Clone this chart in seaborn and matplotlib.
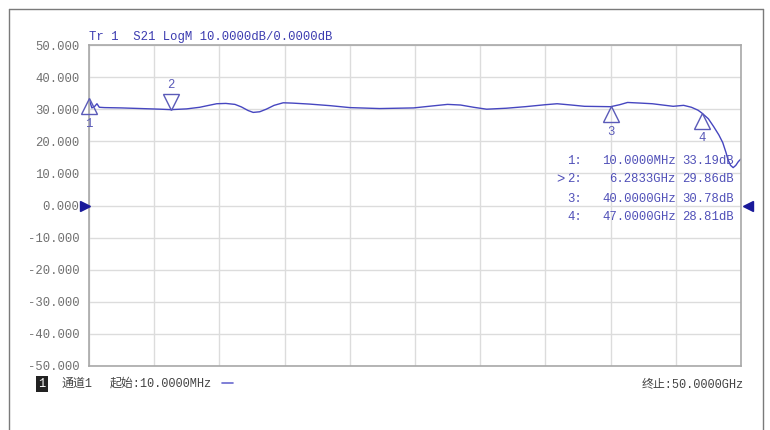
"""
VNA screenshot style trace: S21 LogM, 10 MHz - 50 GHz
"""

import matplotlib.pyplot as plt
import matplotlib.transforms as mtransforms
from matplotlib.lines import Line2D
import numpy as np
import pandas as pd
import seaborn as sns

# ---------------------------------------------------------------------------
# Data
# ---------------------------------------------------------------------------
freq_ghz = [0.01, 0.23, 0.45, 0.62, 0.8, 1.2, 2.5, 4.0, 5.5, 6.2833, 7.5,
            8.5, 9.2, 9.8, 10.5, 11.2, 11.7, 12.2, 12.6, 13.1, 13.6,
            14.2, 14.9, 15.6, 16.9, 18.5, 20.0, 22.3, 24.9, 26.3, 27.5,
            28.5, 29.5, 30.5, 32.0, 33.5, 35.0, 35.9, 37.0, 38.0, 40.0,
            40.7, 41.3, 42.3, 43.2, 44.2, 44.8, 45.6, 46.2, 46.7, 47.0,
            47.5, 47.9, 48.3, 48.6, 48.85, 49.0, 49.2, 49.4, 49.6, 49.8, 50.0]
s21_db = [33.19, 30.4, 30.9, 31.7, 30.6, 30.5, 30.4, 30.2, 30.0, 29.86, 30.1,
          30.6, 31.2, 31.7, 31.8, 31.5, 30.7, 29.6, 29.0, 29.2, 30.0,
          31.2, 32.0, 31.9, 31.6, 31.1, 30.5, 30.2, 30.4, 31.0, 31.5,
          31.3, 30.6, 30.0, 30.3, 30.8, 31.4, 31.7, 31.3, 30.9, 30.78,
          31.4, 32.1, 31.9, 31.7, 31.2, 30.9, 31.2, 30.6, 29.7, 28.81,
          27.0, 24.6, 22.0, 19.6, 16.5, 14.3, 12.5, 11.8, 12.5, 13.7, 14.5]

marker_ids = ['1', '2', '3', '4']
marker_freq = [0.01, 6.2833, 40.0, 47.0]
marker_db = [33.19, 29.86, 30.78, 28.81]
marker_freq_txt = ['10.0000MHz', '6.2833GHz', '40.0000GHz', '47.0000GHz']
marker_db_txt = ['33.19dB', '29.86dB', '30.78dB', '28.81dB']
marker_up = [True, False, True, True]

y_ticks = [50, 40, 30, 20, 10, 0, -10, -20, -30, -40, -50]

TRACE = '#4646c0'
MARK = '#5a5ab8'
TXT_BLUE = '#5050b8'
GREY_TXT = '#707070'

W, H = 770, 430


def px(x, y):
    # pixel position (from top-left) -> figure fraction
    return x / W, 1 - y / H


sns.set_theme(style='white')
plt.rcParams['font.family'] = ['Liberation Mono', 'Noto Sans CJK SC', 'DejaVu Sans']

fig = plt.figure(figsize=(W / 100, H / 100), dpi=100)
ax = fig.add_axes([89 / W, 1 - 366 / H, 652 / W, 321 / H])

df = pd.DataFrame({'freq': freq_ghz, 's21': s21_db})
sns.lineplot(data=df, x='freq', y='s21', ax=ax, color=TRACE, linewidth=1.0)

ax.set_xlim(0.01, 50)
ax.set_ylim(-50, 50)
ax.set_xticks(np.linspace(0.01, 50, 11))
ax.set_xticklabels([])
ax.set_yticks(y_ticks)
ax.set_yticklabels([f'{v:.3f}' for v in y_ticks], color=GREY_TXT, fontsize=8.8)
ax.tick_params(length=0, pad=7)
ax.set_xlabel('')
ax.set_ylabel('')
ax.grid(True, color='#dcdcdc', linewidth=1.0)
for sp in ax.spines.values():
    sp.set_color('#a8a8a8')
    sp.set_linewidth(1.2)

# marker triangles (apex sits on the trace)
down_off = mtransforms.offset_copy(ax.transData, fig=fig, x=0, y=-7.5, units='dots')
up_off = mtransforms.offset_copy(ax.transData, fig=fig, x=0, y=7.5, units='dots')
for mid, f, d, up in zip(marker_ids, marker_freq, marker_db, marker_up):
    if up:
        ax.plot(f, d, marker='^', markersize=11, markerfacecolor='none',
                markeredgecolor=MARK, markeredgewidth=1.0, transform=down_off,
                clip_on=False, zorder=5)
        ax.annotate(mid, (f, d), xytext=(0, -19), textcoords='offset pixels',
                    ha='center', va='top', color=MARK, fontsize=8.8)
    else:
        ax.plot(f, d, marker='v', markersize=11, markerfacecolor='none',
                markeredgecolor=MARK, markeredgewidth=1.0, transform=up_off,
                clip_on=False, zorder=5)
        ax.annotate(mid, (f, d), xytext=(0, 19), textcoords='offset pixels',
                    ha='center', va='bottom', color=MARK, fontsize=8.8)

# reference level arrows at 0 dB
ref_tr = mtransforms.blended_transform_factory(ax.transAxes, ax.transData)
ax.plot(-0.006, 0, marker='>', markersize=7, color='#1a1a9a', transform=ref_tr,
        clip_on=False, zorder=6)
ax.plot(1.010, 0, marker='<', markersize=7, color='#1a1a9a', transform=ref_tr,
        clip_on=False, zorder=6)

# header
fig.text(*px(89, 37), 'Tr 1  S21 LogM 10.0000dB/0.0000dB', color='#3c3cb0',
         fontsize=8.8, ha='left', va='center')

# marker table
row_y = [160.5, 179.5, 198.5, 217.5]
for i, (mid, ft, dt) in enumerate(zip(marker_ids, marker_freq_txt, marker_db_txt)):
    fig.text(*px(582, row_y[i]), mid + ':', color=TXT_BLUE, fontsize=8.8, ha='right', va='center')
    fig.text(*px(676, row_y[i]), ft, color=TXT_BLUE, fontsize=8.8, ha='right', va='center')
    fig.text(*px(734, row_y[i]), dt, color=TXT_BLUE, fontsize=8.8, ha='right', va='center')
# active marker pointer
fig.text(*px(556, row_y[1]), '>', color=TXT_BLUE, fontsize=10, ha='left', va='center')

# status bar
fig.text(*px(42, 384), '1', color='white', fontsize=8.6, ha='center', va='center',
         bbox=dict(boxstyle='square,pad=0.2', facecolor='#222222', edgecolor='none'))
fig.text(*px(61, 384), '通道1', color='#444444', fontsize=8.6, ha='left', va='center')
fig.text(*px(110, 384), '起始:10.0000MHz', color='#444444', fontsize=8.6, ha='left', va='center')
fig.add_artist(Line2D([222 / W, 233 / W], [1 - 383 / H] * 2, color='#6a6ad0', linewidth=1.2))
fig.text(*px(744, 384), '终止:50.0000GHz', color='#444444', fontsize=8.6, ha='right', va='center')

# outer window frame
for xs, ys in [([9, 763], [9, 9]), ([9, 9], [9, 432]), ([763, 763], [9, 432])]:
    fig.add_artist(Line2D([x / W for x in xs], [1 - y / H for y in ys],
                          color='#7a7a7a', linewidth=1.0))

plt.savefig('out.png', dpi=100)
plt.close()
